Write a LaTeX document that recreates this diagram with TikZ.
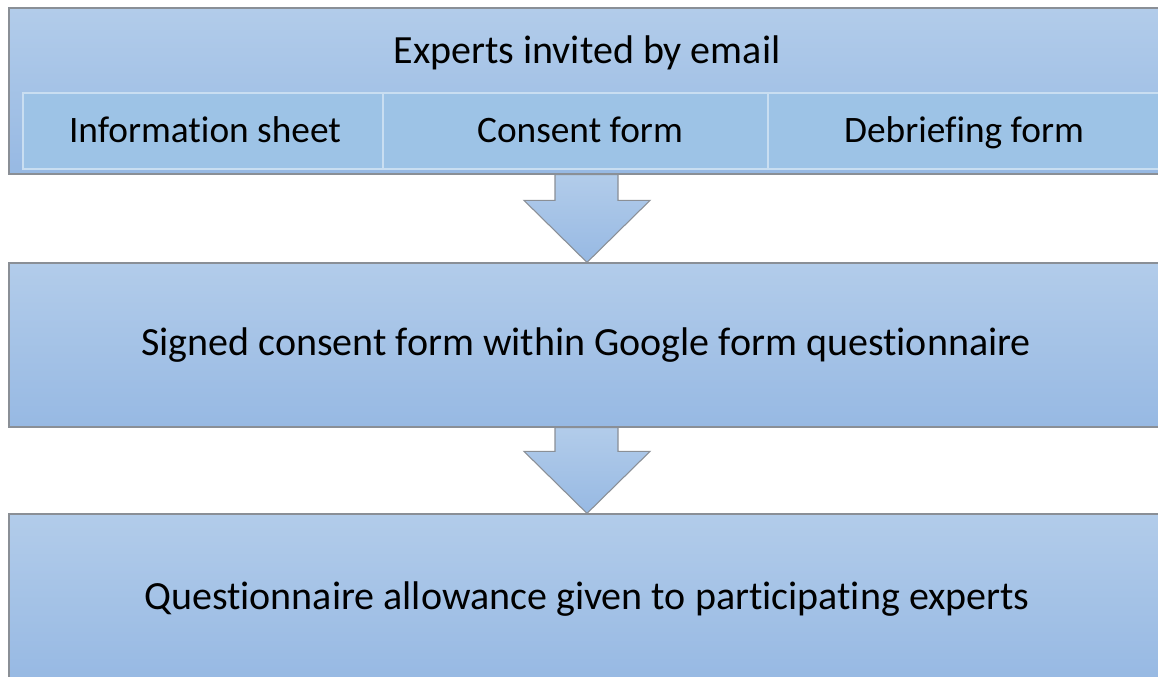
\documentclass[tikz,border=0pt]{standalone}
\usepackage{fontspec}
\setmainfont{Carlito}[Ligatures=NoCommon]
\usepackage{tikz}
\usetikzlibrary{calc,positioning}
\definecolor{boxtop}{HTML}{B2CCEA}
\definecolor{boxbot}{HTML}{97B9E3}
\definecolor{cellblue}{HTML}{9DC3E6}
\definecolor{edgegray}{HTML}{8A8F96}

\begin{document}
\begin{tikzpicture}[
		x=0.75pt, y=-0.75pt,
		stagebox/.style={rectangle, draw=edgegray, line width=0.9pt, top color=boxtop, bottom color=boxbot, inner sep=0pt},
		boxtext/.style={inner sep=0pt, text height=0.62em, text depth=0.2em, font=\fontsize{30}{36}\selectfont},
		celltext/.style={boxtext, font=\fontsize{28}{34}\selectfont},
		cellbox/.style={rectangle, draw=white!45!cellblue, line width=0.8pt, fill=cellblue, inner sep=0pt, minimum height=57pt},
		flowarrow/.style={draw=edgegray, line width=0.8pt, top color=boxtop, bottom color=boxbot, line join=miter}]
	\useasboundingbox (0,0) rectangle (1158,677);
	\clip (0,0) rectangle (1158,677);
	\path 	(585,91)   node (box1) [stagebox, minimum width=864pt, minimum height=124.5pt] {}
	        (585,345)  node (box2) [stagebox, minimum width=864pt, minimum height=123pt] {}
	        (585,597)  node (box3) [stagebox, minimum width=864pt, minimum height=124.5pt] {};
	\path 	(203,131)  node (cell1) [cellbox, minimum width=270pt] {}
	        (575.5,131) node (cell2) [cellbox, minimum width=288.75pt] {}
	        (965,131)  node (cell3) [cellbox, minimum width=295.5pt] {};
	\path 	(587,61)   node (title) [boxtext] {Experts invited by email}
	        (205,140)  node (info) [celltext] {Information sheet}
	        (580,140)  node (consent) [celltext] {Consent form}
	        (964,140)  node (debrief) [celltext] {Debriefing form}
	        (586,353)  node (signed) [boxtext] {Signed consent form within Google form questionnaire}
	        (587,607)  node (allow) [boxtext] {Questionnaire allowance given to participating experts};
	% arrows between the stages
	\foreach \from/\to in {box1/box2, box2/box3}
		\draw [flowarrow] ($(\from.south)+(-30,0)$) -- ($(\from.south)+(33,0)$)
			-- ($(\to.north)+(33,-62)$) -- ($(\to.north)+(65,-62)$) -- ($(\to.north)+(2,0)$)
			-- ($(\to.north)+(-61,-62)$) -- ($(\to.north)+(-30,-62)$) -- cycle;
\end{tikzpicture}
\end{document}
